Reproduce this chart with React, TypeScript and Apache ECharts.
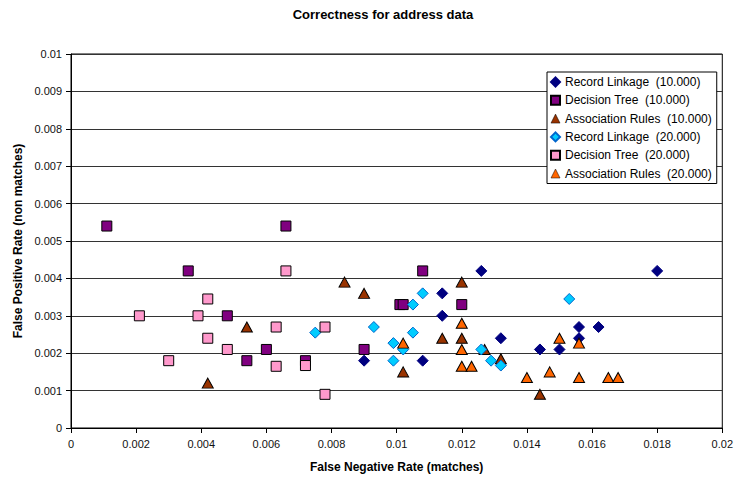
import React, { useEffect, useRef } from "react";
import * as echarts from "echarts";

const FONT = "Arial, 'Liberation Sans', sans-serif";

const seriesNames = [
  "Record Linkage  (10.000)",
  "Decision Tree  (10.000)",
  "Association Rules  (10.000)",
  "Record Linkage  (20.000)",
  "Decision Tree  (20.000)",
  "Association Rules  (20.000)",
];

const recordLinkage10: [number, number][] = [
  [0.0126, 0.0042], [0.018, 0.0042], [0.0114, 0.0036], [0.0114, 0.003],
  [0.009, 0.0018], [0.0108, 0.0018], [0.0132, 0.0024], [0.0156, 0.0027],
  [0.0162, 0.0027], [0.0156, 0.0024], [0.0144, 0.0021], [0.015, 0.0021],
];
const decisionTree10: [number, number][] = [
  [0.0011, 0.0054], [0.0066, 0.0054], [0.0036, 0.0042], [0.0108, 0.0042],
  [0.0048, 0.003], [0.0101, 0.0033], [0.0102, 0.0033], [0.012, 0.0033],
  [0.006, 0.0021], [0.009, 0.0021], [0.0054, 0.0018], [0.0072, 0.0018],
];
const associationRules10: [number, number][] = [
  [0.0042, 0.0012], [0.0054, 0.0027], [0.0084, 0.0039], [0.009, 0.0036],
  [0.012, 0.0039], [0.0114, 0.0024], [0.012, 0.0024], [0.0102, 0.0015],
  [0.0127, 0.0021], [0.0132, 0.00185], [0.0144, 0.0009],
];
const recordLinkage20: [number, number][] = [
  [0.0075, 0.00255], [0.0093, 0.0027], [0.0099, 0.00227], [0.0099, 0.0018],
  [0.0102, 0.0021], [0.0105, 0.0033], [0.0105, 0.00255], [0.0108, 0.0036],
  [0.0126, 0.0021], [0.0129, 0.0018], [0.0132, 0.00167], [0.0153, 0.00345],
];
const decisionTree20: [number, number][] = [
  [0.0021, 0.003], [0.0039, 0.003], [0.0042, 0.00345], [0.0042, 0.0024],
  [0.0048, 0.0021], [0.003, 0.0018], [0.0063, 0.0027], [0.0063, 0.00165],
  [0.0066, 0.0042], [0.0078, 0.0027], [0.0072, 0.00167], [0.0078, 0.0009],
];
const associationRules20: [number, number][] = [
  [0.0102, 0.00227], [0.012, 0.0028], [0.012, 0.0021], [0.012, 0.00165],
  [0.0123, 0.00165], [0.014, 0.00135], [0.0147, 0.0015], [0.015, 0.0024],
  [0.0156, 0.00227], [0.0156, 0.00135], [0.0165, 0.00135], [0.0168, 0.00135],
];

const xTicks = { min: 0, max: 0.02, interval: 0.002 };
const yTicks = { min: 0, max: 0.01, interval: 0.001 };

const fmt = (v: number) => String(+v.toFixed(4));

export default function App() {
  const ref = useRef<HTMLDivElement>(null);
  useEffect(() => {
    document.body.style.margin = "0";
    if (!ref.current) return;
    const chart = echarts.init(ref.current, undefined, { renderer: "svg" });
    const mk = (
      name: string,
      data: [number, number][],
      symbol: string,
      size: number | number[],
      color: string,
      border: string
    ) => ({
      name,
      type: "scatter",
      data,
      symbol,
      symbolSize: size,
      itemStyle: { color, borderColor: border, borderWidth: 1, opacity: 1 },
      emphasis: { disabled: true },
    });
    chart.setOption({
      animation: false,
      backgroundColor: "#fff",
      title: {
        text: "Correctness for address data",
        left: 378,
        top: 3,
        textAlign: "center",
        textStyle: { fontFamily: FONT, fontSize: 13, fontWeight: "bold", color: "#000" },
      },
      grid: {
        left: 71,
        right: 13,
        top: 54,
        bottom: 54,
        show: true,
        borderColor: "#000",
        borderWidth: 1,
        backgroundColor: "#fff",
      },
      legend: {
        orient: "vertical",
        left: 547,
        top: 72,
        itemWidth: 9,
        itemHeight: 9,
        itemGap: 4.3,
        padding: [3, 5, 3, 3],
        borderColor: "#000",
        borderWidth: 1,
        backgroundColor: "#fff",
        borderRadius: 0,
        textStyle: { fontFamily: FONT, fontSize: 12, color: "#000", lineHeight: 14 },
        data: seriesNames.map((n, i) =>
          i === 2 || i === 5 ? { name: n, itemStyle: { borderWidth: 0.5 } } : { name: n }
        ),
      },
      xAxis: {
        type: "value",
        min: xTicks.min,
        max: xTicks.max,
        interval: xTicks.interval,
        name: "False Negative Rate (matches)",
        nameLocation: "middle",
        nameGap: 33,
        nameTextStyle: { fontFamily: FONT, fontSize: 12, fontWeight: "bold", color: "#000" },
        axisLine: { show: true, lineStyle: { color: "#000", width: 1 } },
        axisTick: { show: true, length: 5, lineStyle: { color: "#000" } },
        axisLabel: { fontFamily: FONT, fontSize: 11, color: "#111", margin: 10, formatter: fmt },
        splitLine: { show: false },
      },
      yAxis: {
        type: "value",
        min: yTicks.min,
        max: yTicks.max,
        interval: yTicks.interval,
        name: "False Positive Rate (non matches)",
        nameLocation: "middle",
        nameGap: 47,
        nameTextStyle: { fontFamily: FONT, fontSize: 12, fontWeight: "bold", color: "#000" },
        axisLine: { show: true, lineStyle: { color: "#000", width: 1 } },
        axisTick: { show: true, length: 5, lineStyle: { color: "#000" } },
        axisLabel: { fontFamily: FONT, fontSize: 11, color: "#111", margin: 9, formatter: fmt },
        splitLine: { show: true, lineStyle: { color: "#333", width: 1 } },
      },
      series: [
        mk(seriesNames[0], recordLinkage10, "diamond", 11, "#000080", "#000080"),
        mk(seriesNames[1], decisionTree10, "rect", 10, "#800080", "#000000"),
        mk(seriesNames[2], associationRules10, "triangle", [11, 10], "#993300", "#000000"),
        mk(seriesNames[3], recordLinkage20, "diamond", 11, "#00CCFF", "#0066CC"),
        mk(seriesNames[4], decisionTree20, "rect", 10, "#FF99CC", "#000000"),
        mk(seriesNames[5], associationRules20, "triangle", [11, 10], "#FF6600", "#000000"),
      ],
    });
    return () => chart.dispose();
  }, []);
  return <div ref={ref} style={{ width: 736, height: 482 }} />;
}
